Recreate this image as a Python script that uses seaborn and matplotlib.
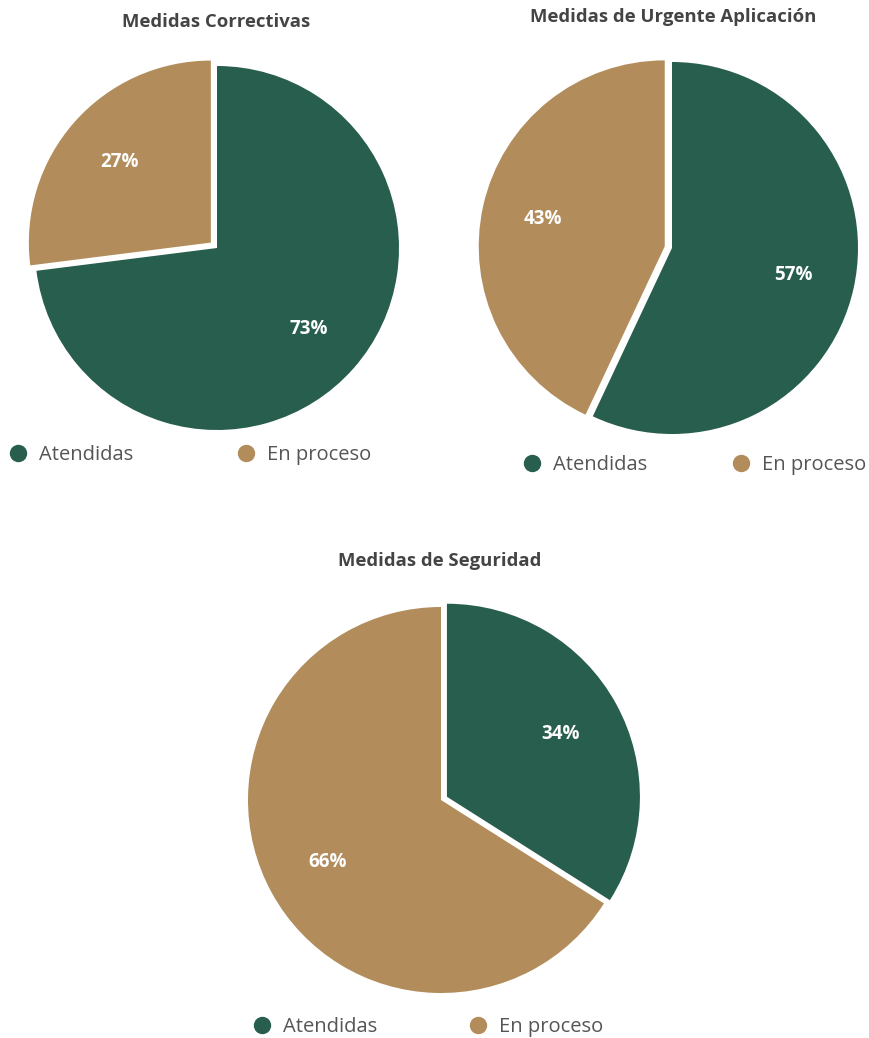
import matplotlib
matplotlib.use("Agg")
import matplotlib.pyplot as plt
from matplotlib.lines import Line2D
import seaborn as sns

# ---- data ----
categories = ["Atendidas", "En proceso"]
titles = ["Medidas Correctivas", "Medidas de Urgente Aplicación", "Medidas de Seguridad"]
correctivas = [73, 27]
urgente = [57, 43]
seguridad = [34, 66]
explode_correctivas = [0, 0.045]
explode_urgente = [0, 0.04]
explode_seguridad = [0.035, 0]

sns.set_theme(style="white")
plt.rcParams['font.family'] = ['Open Sans', 'DejaVu Sans']
palette = sns.color_palette(["#285E4E", "#B28D5B"])

W, H = 869, 1038
fig = plt.figure(figsize=(W / 100, H / 100), dpi=100)
fig.patch.set_facecolor("white")

def fx(x):
    return x / W

def fy(y):
    return 1 - y / H

M = 1.15

def draw_pie(values, explode, cx, cy, R, title, tx, ty, leg):
    ax = fig.add_axes([(cx - M * R) / W, 1 - (cy + M * R) / H, 2 * M * R / W, 2 * M * R / H])
    wedges, texts, autotexts = ax.pie(
        values, colors=palette, startangle=90, counterclock=False,
        explode=explode, radius=1, autopct=lambda p: f"{p:.0f}%",
        pctdistance=0.67, wedgeprops=dict(linewidth=0),
        textprops=dict(color="white", fontsize=13.5, fontweight="bold"))
    ax.set_xlim(-M, M)
    ax.set_ylim(-M, M)
    ax.set_aspect("equal")
    ax.axis("off")
    fig.text(fx(tx), fy(ty), title, ha="center", va="center",
             fontsize=13.3, fontweight="bold", color="#444444")
    for (mx, my), lab, col in zip(leg, categories, palette):
        h = Line2D([], [], marker="o", linestyle="", markersize=11.5,
                   markerfacecolor=col, markeredgecolor=col)
        fig.legend([h], [lab], loc="center left", bbox_to_anchor=(fx(mx), fy(my)),
                   frameon=False, handlelength=0.6, handletextpad=0.75,
                   borderpad=0, borderaxespad=0, fontsize=14.5, labelcolor="#555555")

draw_pie(correctivas, explode_correctivas, 217, 248, 182, titles[0], 216, 22,
         [(12, 455), (240, 455)])
draw_pie(urgente, explode_urgente, 672, 248, 186, titles[1], 673, 17,
         [(526, 465), (735, 465)])
draw_pie(seguridad, explode_seguridad, 441, 800, 193, titles[2], 440, 561,
         [(256, 1027), (472, 1027)])

fig.savefig("out.png", dpi=100, facecolor="white")
